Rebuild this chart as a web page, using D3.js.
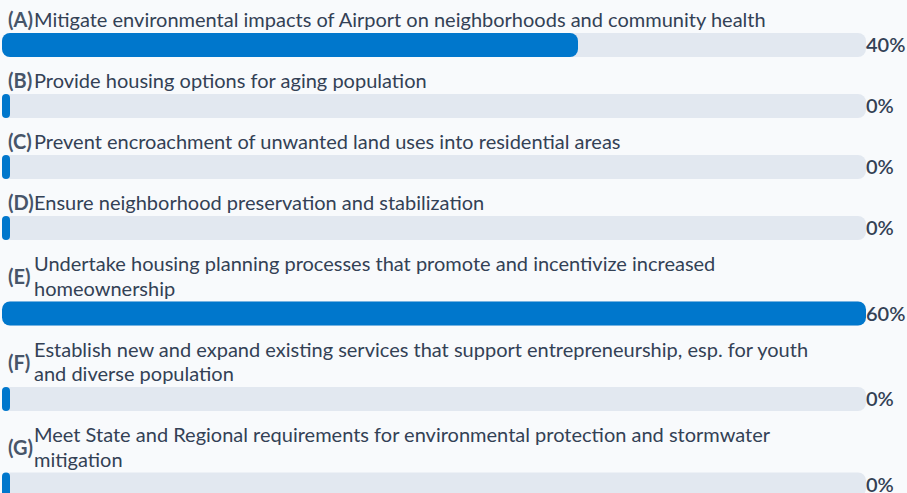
<!DOCTYPE html>
<html>
<head>
<meta charset="utf-8">
<script src="https://cdn.jsdelivr.net/npm/d3@7/dist/d3.min.js"></script>
<style>
  html, body { margin: 0; padding: 0; background: #f8fafc; }
  svg { display: block; }
</style>
</head>
<body>
<svg id="chart" width="907" height="493"></svg>
<script>
// Survey response shares per priority
const letters = ["A", "B", "C", "D", "E", "F", "G"];
const labels = [
  "Mitigate environmental impacts of Airport on neighborhoods and community health",
  "Provide housing options for aging population",
  "Prevent encroachment of unwanted land uses into residential areas",
  "Ensure neighborhood preservation and stabilization",
  "Undertake housing planning processes that promote and incentivize increased homeownership",
  "Establish new and expand existing services that support entrepreneurship, esp. for youth and diverse population",
  "Meet State and Regional requirements for environmental protection and stormwater mitigation"
];
const values = [40, 0, 0, 0, 60, 0, 0];

const W = 907, H = 493;
const FONT = "Lato, 'Noto Sans', sans-serif";
const fontSize = 20;
const trackX = 2, trackW = 864, trackH = 24;
const textX = 34, letterX = 8;
const lineH = 24.5, wrapW = 790;
const minBar = 8;

const svg = d3.select("#chart");
svg.append("rect").attr("width", W).attr("height", H).attr("fill", "#f8fafc");

const x = d3.scaleLinear().domain([0, d3.max(values)]).range([0, trackW]);

// word-wrap a label using a hidden measuring node
const meas = svg.append("text").attr("font-family", FONT).attr("font-size", fontSize).attr("visibility", "hidden");
function wrap(str) {
  const words = str.split(" ");
  const lines = [];
  let cur = "";
  words.forEach(w => {
    const t = cur ? cur + " " + w : w;
    meas.text(t);
    if (meas.node().getComputedTextLength() > wrapW && cur) {
      lines.push(cur);
      cur = w;
    } else cur = t;
  });
  lines.push(cur);
  return lines;
}

const rows = [];
let base = 27;
labels.forEach((lab, i) => {
  const lines = wrap(lab);
  const baselines = lines.map((_, j) => base + j * lineH);
  const trackY = baselines[baselines.length - 1] + 6;
  rows.push({ letter: letters[i], lines, baselines, trackY, value: values[i] });
  base = trackY + trackH + 31;
});
meas.remove();

const g = svg.selectAll("g.row").data(rows).join("g").attr("class", "row");

// letter tag, centred against the label lines
g.append("text")
  .attr("x", letterX)
  .attr("y", d => d3.mean(d.baselines) + (d.lines.length > 1 ? 1 : 0))
  .attr("font-family", FONT)
  .attr("font-size", fontSize)
  .attr("font-weight", 700)
  .attr("fill", "#475569")
  .text(d => `(${d.letter})`);

// label text
g.append("text")
  .attr("font-family", FONT)
  .attr("font-size", fontSize)
  .attr("fill", "#334155")
  .selectAll("tspan")
  .data(d => d.lines.map((l, j) => ({ l, y: d.baselines[j] })))
  .join("tspan")
  .attr("x", textX)
  .attr("y", d => d.y)
  .text(d => d.l);

// track
g.append("rect")
  .attr("x", trackX)
  .attr("y", d => d.trackY)
  .attr("width", trackW)
  .attr("height", trackH)
  .attr("rx", 8)
  .attr("fill", "#e2e8f0");

// value bar
g.append("rect")
  .attr("x", trackX)
  .attr("y", d => d.trackY)
  .attr("width", d => Math.max(x(d.value), minBar))
  .attr("height", trackH)
  .attr("rx", d => x(d.value) > minBar ? 8 : 4)
  .attr("fill", "#0077cc");

// percentage
g.append("text")
  .attr("x", trackX + trackW)
  .attr("y", d => d.trackY + 19)
  .attr("font-family", FONT)
  .attr("font-size", fontSize)
  .attr("font-weight", 600)
  .attr("fill", "#334155")
  .text(d => `${d.value}%`);
</script>
</body>
</html>
